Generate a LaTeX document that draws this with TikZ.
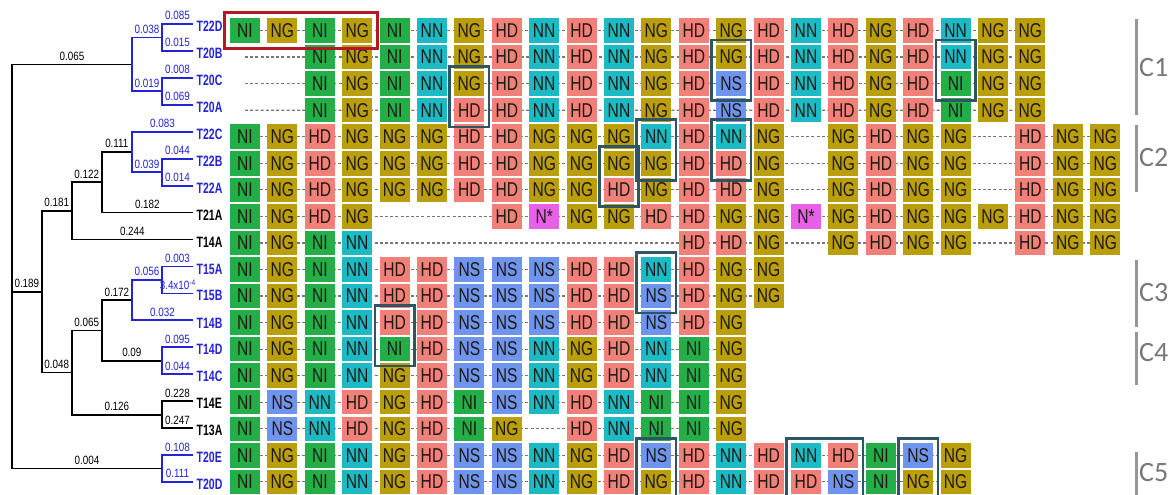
\documentclass[tikz,border=0pt]{standalone}
\usepackage{fontspec}
\setmainfont{Liberation Sans}
\newfontfamily\carl{Carlito}
\usetikzlibrary{backgrounds,fit}
\definecolor{colNI}{RGB}{36,174,72}
\definecolor{colNG}{RGB}{186,158,12}
\definecolor{colHD}{RGB}{240,128,120}
\definecolor{colNN}{RGB}{28,186,196}
\definecolor{colNS}{RGB}{110,148,238}
\definecolor{colNX}{RGB}{232,96,232}
\definecolor{txt}{RGB}{30,25,20}
\definecolor{tblue}{RGB}{35,35,215}
\definecolor{hlc}{RGB}{45,85,100}
\definecolor{redc}{RGB}{180,25,35}
\definecolor{barc}{RGB}{150,150,150}
\definecolor{clab}{RGB}{120,120,120}
\definecolor{dashc}{RGB}{120,120,120}
\newcommand\sx[2]{\scalebox{#1}[1]{#2}}
\def\emp{E}
\def\nx{NX}
\newcommand\gridrow[2]{%
  \foreach \k [count=\c] in {#2} {%
    \ifx\k\emp\else
      \node[cell, fill=col\k] (b#1-\c) at ({245+(\c-1)*37.4},{30.5+(#1-1)*26.55}) {\sx{0.78}{\ifx\k\nx N*\else\k\fi}};
    \fi}}
\tikzset{
  cell/.style={minimum width=30pt, minimum height=24.5pt, inner sep=0pt, text=txt, font=\fontsize{20}{20}\selectfont},
  conn/.style={draw=dashc, line width=1.2pt, dash pattern=on 3pt off 2.2pt},
  hl/.style={draw=hlc, line width=2.6pt, inner sep=4.5pt},
  redbox/.style={draw=redc, line width=3pt, inner sep=5.5pt},
  bk/.style={draw=black, line width=1.8pt},
  bu/.style={draw=tblue, line width=1.8pt},
  bl/.style={pos=0.75, above=2pt, inner sep=1pt, font=\fontsize{12}{12}\selectfont},
  leaf/.style={anchor=west, inner sep=1.5pt, font=\fontsize{15}{15}\selectfont\bfseries},
  bar/.style={draw=barc, line width=3pt},
  clabel/.style={anchor=west, inner sep=0pt, text=clab, font=\carl\fontsize{28}{28}\selectfont}
}
\begin{document}
\begin{tikzpicture}[x=1pt,y=-1pt]
\useasboundingbox (0,0) rectangle (1175,495);
% ---------------- grid ----------------
\gridrow{1}{NI,NG,NI,NG,NI,NN,NG,HD,NN,HD,NN,NG,HD,NG,HD,NN,HD,NG,HD,NN,NG,NG}
\gridrow{2}{E,E,NI,NG,NI,NN,NG,HD,NN,HD,NN,NG,HD,NG,HD,NN,HD,NG,HD,NN,NG,NG}
\gridrow{3}{E,E,NI,NG,NI,NN,NG,HD,NN,HD,NN,NG,HD,NS,HD,NN,HD,NG,HD,NI,NG,NG}
\gridrow{4}{E,E,NI,NG,NI,NN,HD,HD,NN,HD,NN,NG,HD,NS,HD,NN,HD,NG,HD,NI,NG,NG}
\gridrow{5}{NI,NG,HD,NG,NG,NG,HD,HD,NG,NG,NG,NN,HD,NN,NG,E,NG,HD,NG,NG,E,HD,NG,NG}
\gridrow{6}{NI,NG,HD,NG,NG,NG,HD,HD,NG,NG,NG,NG,HD,HD,NG,E,NG,HD,NG,NG,E,HD,NG,NG}
\gridrow{7}{NI,NG,HD,NG,NG,NG,HD,HD,NG,NG,HD,NG,HD,HD,NG,E,NG,HD,NG,NG,E,HD,NG,NG}
\gridrow{8}{NI,NG,HD,NG,E,E,E,HD,NX,NG,NG,HD,HD,NG,NG,NX,NG,HD,NG,NG,NG,HD,NG,NG}
\gridrow{9}{NI,NG,NI,NN,E,E,E,E,E,E,E,E,HD,HD,NG,E,NG,HD,NG,NG,E,HD,NG,NG}
\gridrow{10}{NI,NG,NI,NN,HD,HD,NS,NS,NS,HD,HD,NN,HD,NG,NG}
\gridrow{11}{NI,NG,NI,NN,HD,HD,NS,NS,NS,HD,HD,NS,HD,NG,NG}
\gridrow{12}{NI,NG,NI,NN,HD,HD,NS,NS,NS,HD,HD,NS,HD,NG}
\gridrow{13}{NI,NG,NI,NN,NI,HD,NS,NS,NN,NG,HD,NN,NI,NG}
\gridrow{14}{NI,NG,NI,NN,NG,HD,NS,NS,NN,NG,HD,NN,NI,NG}
\gridrow{15}{NI,NS,NN,HD,NG,HD,NI,NS,NN,HD,NN,NI,NI,NG}
\gridrow{16}{NI,NS,NN,HD,NG,HD,NI,NG,E,HD,NN,NI,NI,NG}
\gridrow{17}{NI,NG,NI,NN,NG,HD,NS,NS,NN,NG,HD,NS,HD,NN,HD,NN,HD,NI,NS,NG}
\gridrow{18}{NI,NG,NI,NN,NG,HD,NS,NS,NN,NG,HD,NG,HD,NN,HD,HD,NS,NI,NG,NG}
\coordinate (s2) at (245,57.05);
\coordinate (s3) at (245,83.6);
\coordinate (s4) at (245,110.15);
\begin{scope}[on background layer]
\fill[white] (0,0) rectangle (1175,495);
\draw[conn] (b1-1) -- (b1-22);
\draw[conn] (s2) -- (b2-22);
\draw[conn] (s3) -- (b3-22);
\draw[conn] (s4) -- (b4-22);
\foreach \r in {5,6,7,8,9} {\draw[conn] (b\r-1) -- (b\r-24);}
\draw[conn] (b10-1) -- (b10-15);
\draw[conn] (b11-1) -- (b11-15);
\foreach \r in {12,13,14,15,16} {\draw[conn] (b\r-1) -- (b\r-14);}
\draw[conn] (b17-1) -- (b17-20);
\draw[conn] (b18-1) -- (b18-20);
\end{scope}
% highlight boxes
\node[redbox, fit=(b1-1)(b1-4)] (red) {};
\node[hl, fit=(b3-7)(b4-7)] (h1) {};
\node[hl, fit=(b2-14)(b3-14)] (h2) {};
\node[hl, fit=(b2-20)(b3-20)] (h3) {};
\node[hl, fit=(b5-12)(b6-12)] (h4) {};
\node[hl, fit=(b5-14)(b6-14)] (h5) {};
\node[hl, fit=(b6-11)(b7-11)] (h6) {};
\node[hl, fit=(b10-12)(b11-12)] (h7) {};
\node[hl, fit=(b12-5)(b13-5)] (h8) {};
\node[hl, fit=(b17-12)(b18-12)] (h9) {};
\node[hl, fit=(b17-16)(b18-17)] (h10) {};
\node[hl, fit=(b17-19)(b18-19)] (h11) {};
% ---------------- tree ----------------
\coordinate (nR) at (12,291.72);
\coordinate (nA) at (132,64.41);
\coordinate (nB) at (162,37.47);
\coordinate (nC) at (162,91.35);
\coordinate (nE) at (41.7,291.72);
\coordinate (nF) at (71.7,210.9);
\coordinate (nG) at (101.7,182.27);
\coordinate (nH) at (132,151.97);
\coordinate (nI) at (162,172.17);
\coordinate (nJ) at (71.7,372.54);
\coordinate (nK) at (101.7,330.44);
\coordinate (nL) at (132,300.14);
\coordinate (nM) at (162,279.93);
\coordinate (nN) at (162,360.75);
\coordinate (nO) at (162,414.63);
\coordinate (nP) at (162,468.51);
\foreach \r in {1,...,18} {\coordinate (t\r) at (193,{24+26.94*(\r-1)});}
% leaf labels
\foreach \r/\nm/\cl in {1/T22D/tblue,2/T20B/tblue,3/T20C/tblue,4/T20A/tblue,5/T22C/tblue,6/T22B/tblue,7/T22A/tblue,8/T21A/black,9/T14A/black,10/T15A/tblue,11/T15B/tblue,12/T14B/tblue,13/T14D/tblue,14/T14C/tblue,15/T14E/black,16/T13A/black,17/T20E/tblue,18/T20D/tblue}
  {\node[leaf, text=\cl] (lab\r) at ([shift={(2,2.5)}]t\r) {\sx{0.7}{\nm}};}
% branches
\draw[bk] (nR) |- node[bl]{\sx{0.82}{0.065}} (nA);
\draw[bk] (nR) |- node[bl]{\sx{0.82}{0.189}} (nE);
\draw[bk] (nR) |- node[bl]{\sx{0.82}{0.004}} (nP);
\draw[bu] (nA) |- node[bl,text=tblue]{\sx{0.82}{0.038}} (nB);
\draw[bu] (nA) |- node[bl,text=tblue]{\sx{0.82}{0.019}} (nC);
\draw[bu] (nB) |- node[bl,text=tblue]{\sx{0.82}{0.085}} (t1);
\draw[bu] (nB) |- node[bl,text=tblue]{\sx{0.82}{0.015}} (t2);
\draw[bu] (nC) |- node[bl,text=tblue]{\sx{0.82}{0.008}} (t3);
\draw[bu] (nC) |- node[bl,text=tblue]{\sx{0.82}{0.069}} (t4);
\draw[bk] (nE) |- node[bl]{\sx{0.82}{0.181}} (nF);
\draw[bk] (nE) |- node[bl]{\sx{0.82}{0.048}} (nJ);
\draw[bk] (nF) |- node[bl]{\sx{0.82}{0.122}} (nG);
\draw[bk] (nF) |- node[bl]{\sx{0.82}{0.244}} (t9);
\draw[bk] (nG) |- node[bl]{\sx{0.82}{0.111}} (nH);
\draw[bk] (nG) |- node[bl]{\sx{0.82}{0.182}} (t8);
\draw[bu] (nH) |- node[bl,text=tblue]{\sx{0.82}{0.083}} (t5);
\draw[bu] (nH) |- node[bl,text=tblue]{\sx{0.82}{0.039}} (nI);
\draw[bu] (nI) |- node[bl,text=tblue]{\sx{0.82}{0.044}} (t6);
\draw[bu] (nI) |- node[bl,text=tblue]{\sx{0.82}{0.014}} (t7);
\draw[bk] (nJ) |- node[bl]{\sx{0.82}{0.065}} (nK);
\draw[bk] (nJ) |- node[bl]{\sx{0.82}{0.126}} (nO);
\draw[bk] (nK) |- node[bl]{\sx{0.82}{0.172}} (nL);
\draw[bk] (nK) |- node[bl]{\sx{0.82}{0.09}} (nN);
\draw[bu] (nL) |- node[bl,text=tblue]{\sx{0.82}{0.056}} (nM);
\draw[bu] (nL) |- node[bl,text=tblue]{\sx{0.82}{0.032}} (t12);
\draw[bu] (nM) |- node[bl,text=tblue]{\sx{0.82}{0.003}} (t10);
\draw[bu] (nM) |- node[bl,text=tblue]{\sx{0.82}{3.4x10\raisebox{4pt}{\fontsize{8}{8}\selectfont -4}}} (t11);
\draw[bu] (nN) |- node[bl,text=tblue]{\sx{0.82}{0.095}} (t13);
\draw[bu] (nN) |- node[bl,text=tblue]{\sx{0.82}{0.044}} (t14);
\draw[bk] (nO) |- node[bl]{\sx{0.82}{0.228}} (t15);
\draw[bk] (nO) |- node[bl]{\sx{0.82}{0.247}} (t16);
\draw[bu] (nP) |- node[bl,text=tblue]{\sx{0.82}{0.108}} (t17);
\draw[bu] (nP) |- node[bl,text=tblue]{\sx{0.82}{0.111}} (t18);
% ---------------- group labels ----------------
\draw[bar] (1136.7,19.3) -- (1136.7,115);
\node[clabel] (c1) at (1139,68) {C1};
\draw[bar] (1136.7,125) -- (1136.7,191.7);
\node[clabel] (c2) at (1139,158) {C2};
\draw[bar] (1136.7,260) -- (1136.7,326.7);
\node[clabel] (c3) at (1139,293) {C3};
\draw[bar] (1136.7,331.7) -- (1136.7,385);
\node[clabel] (c4) at (1139,353) {C4};
\draw[bar] (1136.7,451.7) -- (1136.7,495);
\node[clabel] (c5) at (1139,473) {C5};
\end{tikzpicture}
\end{document}
